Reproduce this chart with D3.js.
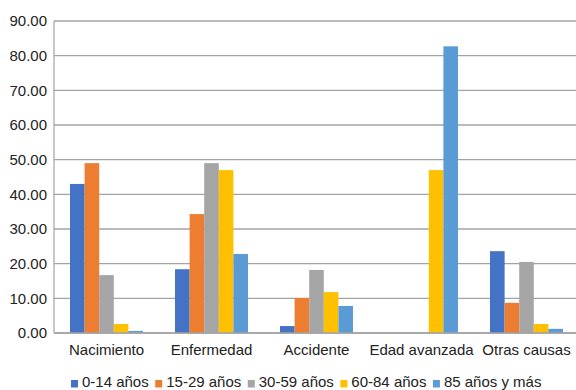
<!DOCTYPE html>
<html>
<head>
<meta charset="utf-8">
<script src="https://cdn.jsdelivr.net/npm/d3@7"></script>
<style>
  html, body { margin: 0; padding: 0; background: #fff; }
  svg { display: block; font-family: "Liberation Sans", Arial, sans-serif; }
</style>
</head>
<body>
<svg id="chart" width="576" height="390"></svg>
<script>
// Causes of death, grouped by age band
const categories = ["Nacimiento", "Enfermedad", "Accidente", "Edad avanzada", "Otras causas"];
const seriesNames = ["0-14 años", "15-29 años", "30-59 años", "60-84 años", "85 años y más"];
const age0_14   = [43.0, 18.4, 2.0, 0, 23.6];
const age15_29  = [49.0, 34.3, 10.1, 0, 8.7];
const age30_59  = [16.7, 49.0, 18.2, 0, 20.5];
const age60_84  = [2.6, 47.0, 11.8, 47.0, 2.6];
const age85plus = [0.6, 22.8, 7.8, 82.7, 1.2];
const yTicks = [0, 10, 20, 30, 40, 50, 60, 70, 80, 90];
const colors = ["#4472C4", "#ED7D31", "#A5A5A5", "#FFC000", "#5B9BD5"];

const series = [age0_14, age15_29, age30_59, age60_84, age85plus];

const svg = d3.select("#chart");
const plotLeft = 54, plotRight = 579, plotTop = 21, plotBottom = 333;

const x0 = d3.scaleBand().domain(categories).range([plotLeft, plotRight])
  .paddingInner(0.305).paddingOuter(0.1525);
const x1 = d3.scaleBand().domain(d3.range(series.length)).range([0, x0.bandwidth()]);
const y = d3.scaleLinear().domain([0, 90]).range([plotBottom, plotTop]);

// horizontal gridlines
svg.append("g").selectAll("line").data(yTicks).join("line")
  .attr("x1", plotLeft).attr("x2", 576)
  .attr("y1", d => y(d)).attr("y2", d => y(d))
  .attr("stroke", "#a3a3a3").attr("stroke-width", 1.4);

// left axis line
svg.append("line").attr("x1", plotLeft).attr("x2", plotLeft)
  .attr("y1", y(90)).attr("y2", y(0))
  .attr("stroke", "#a3a3a3").attr("stroke-width", 1.2);

// y tick labels
const yAxis = d3.axisLeft(y).tickValues(yTicks).tickFormat(d3.format(".2f")).tickSize(0).tickPadding(7);
const yg = svg.append("g").attr("transform", `translate(${plotLeft},0)`).call(yAxis);
yg.select(".domain").remove();
yg.selectAll("text").attr("font-size", 15).attr("fill", "#222")
  .attr("font-family", "Liberation Sans, Arial, sans-serif");

// bars
const groups = svg.append("g").selectAll("g").data(categories).join("g")
  .attr("transform", c => `translate(${x0(c)},0)`);
groups.selectAll("rect")
  .data((c, ci) => series.map((s, si) => ({ si, v: s[ci] })))
  .join("rect")
  .attr("x", d => x1(d.si))
  .attr("width", x1.bandwidth())
  .attr("y", d => y(d.v))
  .attr("height", d => y(0) - y(d.v))
  .attr("fill", d => colors[d.si]);

// baseline redrawn on top of bars
svg.append("line").attr("x1", plotLeft).attr("x2", 576)
  .attr("y1", y(0)).attr("y2", y(0))
  .attr("stroke", "#a3a3a3").attr("stroke-width", 1.4);

// category labels
const xAxis = d3.axisBottom(x0).tickSize(0).tickPadding(11);
const xg = svg.append("g").attr("transform", `translate(0,${plotBottom})`).call(xAxis);
xg.select(".domain").remove();
xg.selectAll("text").attr("font-size", 15).attr("fill", "#222")
  .attr("font-family", "Liberation Sans, Arial, sans-serif");

// legend
const legend = svg.append("g").attr("transform", "translate(71,382)");
let lx = 0;
seriesNames.forEach((name, i) => {
  const item = legend.append("g").attr("transform", `translate(${lx},0)`);
  item.append("rect").attr("x", 0).attr("y", -2).attr("width", 7).attr("height", 7.5).attr("fill", colors[i]);
  const t = item.append("text").attr("x", 11).attr("y", 0).attr("dy", "0.35em")
    .attr("font-size", 15).attr("fill", "#222").text(name);
  lx += 11 + t.node().getComputedTextLength() + 6.5;
});
</script>
</body>
</html>
